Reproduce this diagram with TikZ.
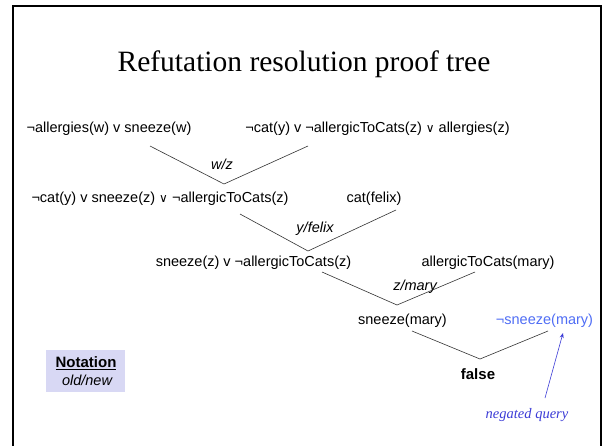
\documentclass[tikz,border=0pt]{standalone}
\usepackage{fontspec}
\setmainfont{Liberation Serif}
\newfontfamily\arialf{Liberation Sans}
\newfontfamily\dvf{DejaVu Sans}
\usetikzlibrary{arrows.meta}
\definecolor{qblue}{RGB}{80,110,245}
\definecolor{nblue}{RGB}{60,60,215}
\definecolor{notebg}{RGB}{216,216,244}
\newcommand{\vor}{{\dvf\fontsize{12}{14}\selectfont ∨}}
\begin{document}
\begin{tikzpicture}[x=1pt,y=-1pt,
  clause/.style={font=\arialf\fontsize{14.5}{17}\selectfont, inner sep=0pt},
  subst/.style={font=\arialf\itshape\fontsize{14.5}{17}\selectfont, inner sep=0pt},
  edge/.style={draw=black!80, line width=0.6pt},
  qarrow/.style={draw=nblue, line width=0.6pt, -{Stealth[length=5pt,width=4pt]}},
]
\useasboundingbox (0,0) rectangle (602,445);
\fill[white] (0,0) rectangle (602,445);
\draw[line width=2.7pt] (13,446) -- (13,6) -- (601,6) -- (601,446);

\node[font=\fontsize{29.5}{34}\selectfont, inner sep=0pt] (title) at (304,64) {Refutation resolution proof tree};

\node[clause] (c1) at (109,129) {¬allergies(w) v sneeze(w)};
\node[clause] (c2) at (377.5,129) {¬cat(y) v ¬allergicToCats(z) \vor{} allergies(z)};
\node[clause] (c3) at (160,199) {¬cat(y) v sneeze(z) \vor{} ¬allergicToCats(z)};
\node[clause] (c4) at (374,199) {cat(felix)};
\node[clause] (c5) at (253.5,263) {sneeze(z) v ¬allergicToCats(z)};
\node[clause] (c6) at (488,263) {allergicToCats(mary)};
\node[clause] (c7) at (402.5,321) {sneeze(mary)};
\node[clause, text=qblue] (c8) at (544.5,321) {¬sneeze(mary)};
\node[clause, font=\arialf\bfseries\fontsize{15}{17}\selectfont] (f) at (478,374) {false};

\node[subst] (s1) at (222,164) {w/z};
\node[subst] (s2) at (315,229) {y/felix};
\node[subst] (s3) at (415,287) {z/mary};

\coordinate (a1l) at (150,146); \coordinate (a1) at (224,184); \coordinate (a1r) at (308,146);
\coordinate (a2l) at (240,214); \coordinate (a2) at (308,251); \coordinate (a2r) at (396,210);
\coordinate (a3l) at (322,272); \coordinate (a3) at (397,305); \coordinate (a3r) at (475,272);
\coordinate (a4l) at (412,331); \coordinate (a4) at (480,359); \coordinate (a4r) at (548,331);
\draw[edge] (a1l) -- (a1) -- (a1r);
\draw[edge] (a2l) -- (a2) -- (a2r);
\draw[edge] (a3l) -- (a3) -- (a3r);
\draw[edge] (a4l) -- (a4) -- (a4r);

\node[text=nblue, font=\itshape\fontsize{14.5}{17}\selectfont, inner sep=0pt] (nq) at (527,415) {negated query};
\coordinate (qtail) at (545,398); \coordinate (qtip) at (563,333);
\draw[qarrow] (qtail) -- (qtip);

\node[fill=notebg, minimum width=79pt, minimum height=42pt, inner sep=0pt] (nbox) at (85.5,371) {};
\node[font=\arialf\bfseries\fontsize{15}{17}\selectfont, inner sep=0pt] (ntitle) at (86,363) {\underline{Notation}};
\node[font=\arialf\itshape\fontsize{14.5}{17}\selectfont, inner sep=0pt] (nsub) at (87,380) {old/new};
\end{tikzpicture}
\end{document}
